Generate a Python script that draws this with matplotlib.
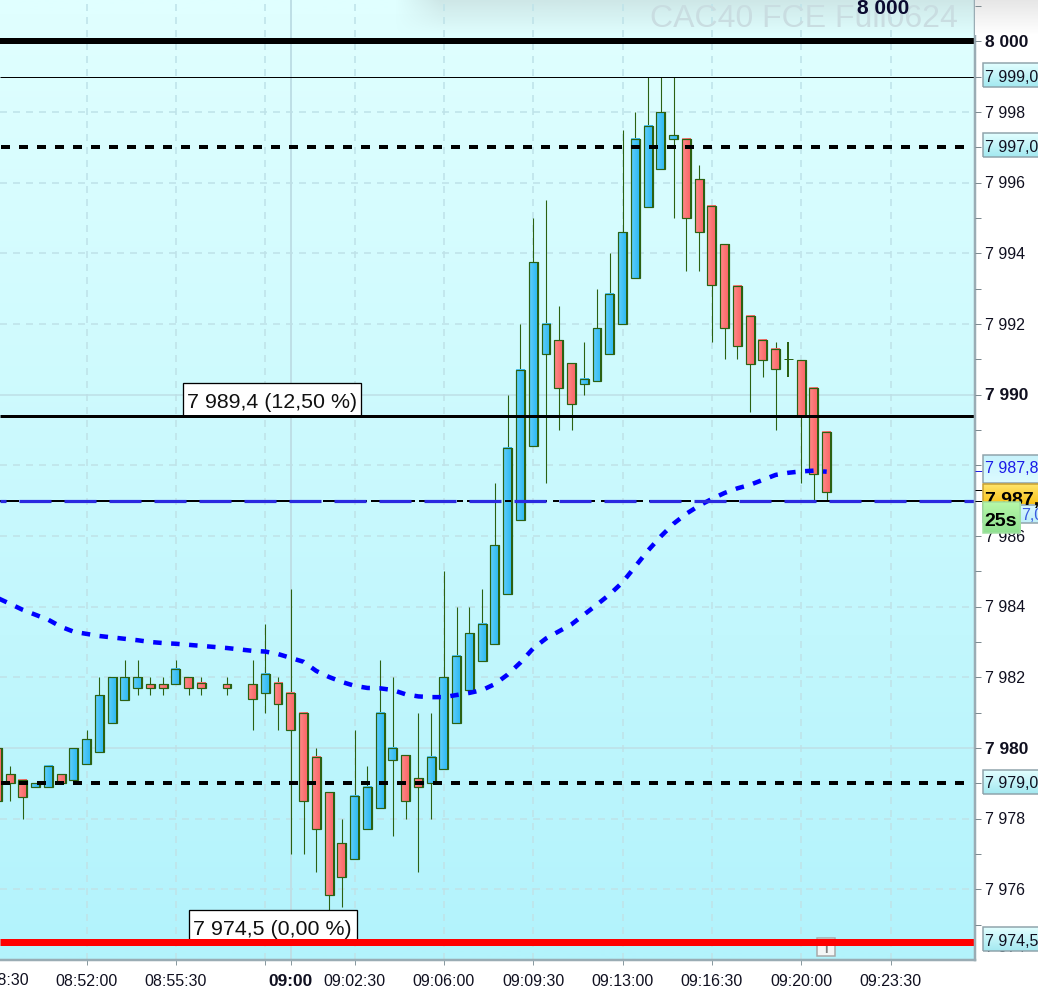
#!/usr/bin/env python3
# -*- coding: utf-8 -*-
"""
CAC40 30s candles with levels, moving average and price labels
"""

import matplotlib as mpl
mpl.use('Agg')
import matplotlib.pyplot as plt
from matplotlib.patches import Rectangle
import numpy as np

mpl.rcParams['font.family'] = ['Liberation Sans', 'DejaVu Sans']
mpl.rcParams['lines.scale_dashes'] = False

# ======= ====================================================================
#  DATA
# ======= ====================================================================

nan = float('nan')

opens = [7980, 7979.25, 7979.1, 7978.9, 7978.9, 7979.25, 7979.1, 7979.55, 7979.9, 7980.7,
         7981.35, 7981.7, 7981.8, 7981.8, 7981.8, 7982, 7981.85, nan, 7981.8, nan,
         7981.8, 7981.55, 7981.85, 7981.55, 7981, 7979.75, 7978.75, 7977.3, 7976.85, 7977.7,
         7978.3, 7979.65, 7979.8, 7979.15, 7979, 7979.4, 7980.7, 7981.65, 7982.45, 7982.95,
         7984.35, 7986.45, 7988.55, 7991.15, 7991.55, 7990.9, 7990.3, 7990.4, 7991.15, 7992,
         7993.3, 7995.3, 7996.4, 7997.25, 7997.25, 7996.1, 7995.35, 7994.27, 7993.08, 7992.23,
         7991.55, 7991.3, 7991, 7990.98, 7990.2, 7988.95]
closes = [7978.5, 7979, 7978.6, 7979, 7979.5, 7979, 7980, 7980.25, 7981.5, 7982,
          7982, 7982, 7981.7, 7981.7, 7982.25, 7981.7, 7981.7, nan, 7981.7, nan,
          7981.4, 7982.1, 7981.25, 7980.5, 7978.5, 7977.7, 7975.85, 7976.35, 7978.65, 7978.9,
          7981, 7980, 7978.5, 7978.9, 7979.75, 7982, 7982.6, 7983.25, 7983.5, 7985.75,
          7988.5, 7990.7, 7993.75, 7992, 7990.2, 7989.75, 7990.45, 7991.9, 7992.85, 7994.6,
          7997.25, 7997.6, 7998, 7997.35, 7995, 7994.6, 7993.1, 7991.9, 7991.37, 7990.87,
          7990.98, 7990.73, 7991, 7989.4, 7987.75, 7987.25]
highs = [7980, 7979.5, 7979.1, 7979, 7979.5, 7979.25, 7980, 7980.5, 7982, 7982,
         7982.5, 7982.5, 7982, 7982, 7982.5, 7982, 7982, nan, 7982, nan,
         7982.5, 7983.5, 7982, 7984.5, 7981, 7980, 7978.75, 7978, 7980.5, 7979.5,
         7982.5, 7982, 7979.8, 7981, 7981, 7985, 7984, 7984, 7984.5, 7987.5,
         7990, 7992, 7995, 7995.5, 7992.5, 7990.9, 7991.5, 7993, 7994, 7997.5,
         7998, 7999, 7999, 7999, 7997.25, 7996.5, 7995.35, 7994.27, 7993.08, 7992.23,
         7991.55, 7991.5, 7991.5, 7990.98, 7990.2, 7988.95]
lows = [7978.5, 7978.5, 7978, 7978.9, 7978.9, 7979, 7979.1, 7979.55, 7979.9, 7980.7,
        7981.35, 7981.5, 7981.5, 7981.5, 7981.8, 7981.5, 7981.5, nan, 7981.5, nan,
        7980.5, 7981, 7980.5, 7977, 7977, 7976.5, 7975.4, 7975.5, 7976.85, 7977.7,
        7978.3, 7977.5, 7978, 7976.5, 7978, 7979.4, 7980.7, 7981.65, 7982.45, 7982.95,
        7984.35, 7986.45, 7988.55, 7987.5, 7989, 7989, 7990, 7990.4, 7991.15, 7992,
        7993.3, 7995.3, 7996.4, 7995, 7993.5, 7993.5, 7991.5, 7991, 7991, 7989.5,
        7990.5, 7989, 7990.5, 7987.5, 7987, 7987]
moving_avg = [7984.25, 7984.08, 7983.91, 7983.77, 7983.63, 7983.43, 7983.29, 7983.23, 7983.17, 7983.13,
              7983.09, 7983.05, 7983.0, 7982.97, 7982.95, 7982.92, 7982.89, 7982.86, 7982.83, 7982.79,
              7982.75, 7982.73, 7982.66, 7982.55, 7982.44, 7982.18, 7982.01, 7981.87, 7981.76, 7981.7,
              7981.69, 7981.64, 7981.52, 7981.46, 7981.44, 7981.44, 7981.5, 7981.56, 7981.64, 7981.81,
              7982.08, 7982.42, 7982.82, 7983.1, 7983.3, 7983.5, 7983.78, 7984.06, 7984.35, 7984.69,
              7985.14, 7985.59, 7985.99, 7986.35, 7986.63, 7986.86, 7987.05, 7987.22, 7987.35, 7987.45,
              7987.59, 7987.73, 7987.79, 7987.83, 7987.85, 7987.82]

time_ticks = [7, 14, 21, 23, 28, 35, 42, 49, 56, 63, 70]
time_labels = ['08:52:00', '08:55:30', '', '09:00', '09:02:30', '09:06:00',
               '09:09:30', '09:13:00', '09:16:30', '09:20:00', '09:23:30']
first_time_label = '08:48:30'

price_ticks = [7976, 7978, 7980, 7982, 7984, 7986, 7990, 7992, 7994, 7996, 7998, 8000]
price_labels = ['7 976', '7 978', '7 980', '7 982', '7 984', '7 986',
                '7 990', '7 992', '7 994', '7 996', '7 998', '8 000']
bold_prices = [7980, 7990, 8000]
grid_prices = [7974, 7976, 7978, 7982, 7984, 7986, 7988, 7992, 7994, 7996, 7998]

# ======== ===================================================================
#  STYLE
# ======== ===================================================================

W, H = 1038, 987
PLOT_W, PLOT_B = 975, 961
X0, DX = -2.7, 12.76        # pixel of candle 0, pixels per candle
Y8000, DY = 42.4, 35.33     # pixel of 8000, pixels per point


def pt(px):
    return px * 0.72


def xi(px):
    return (px - X0) / DX


def yp(px):
    return 8000 - (px - Y8000) / DY


edge = '#2b6112'
reds = ['#ff8a8a', '#f96464']
blues = ['#5fd0fb', '#2cb6f0']
grid_col = '#bfe3e9'


def grad(c0, c1, n=32):
    a, b = np.array(mpl.colors.to_rgb(c0)), np.array(mpl.colors.to_rgb(c1))
    t = np.linspace(0, 1, n)[:, None]
    return a * (1 - t) + b * t


# ====== =====================================================================
#  PLOT
# ====== =====================================================================

fig = plt.figure(figsize=(W / 100, H / 100), dpi=100, facecolor='white')
ax = fig.add_axes([0, (H - PLOT_B) / H, PLOT_W / W, PLOT_B / H])
side = fig.add_axes([PLOT_W / W, (H - PLOT_B) / H, (W - PLOT_W) / W, PLOT_B / H])

# background
bg = grad('#e0ffff', '#b3f3fc')[:, None, :]
ax.imshow(bg, extent=[0, 1, 0, 1], transform=ax.transAxes, aspect='auto',
          interpolation='bilinear', zorder=0)

fade_y = np.linspace(0.6, 0, 36)[:, None]
fade_x = np.clip((np.arange(PLOT_W) - 395) / 45, 0, 1)[None, :]
band = np.zeros((36, PLOT_W, 4))
band[..., :3] = mpl.colors.to_rgb('#c2d6d6')
band[..., 3] = fade_y * fade_x
ax.imshow(band, extent=[0, 1, 1 - 36 / PLOT_B, 1], transform=ax.transAxes, aspect='auto',
          interpolation='bilinear', zorder=0.5)

# grid
ax.set_xticks(time_ticks)
ax.set_xticklabels(time_labels)
ax.set_yticks(grid_prices)
ax.grid(True, color=grid_col, linewidth=pt(1.6), linestyle=(0, (pt(7), pt(6))), zorder=1)
ax.set_axisbelow(True)
ax.hlines([7980, 7990], xi(0), xi(PLOT_W), color='#bedfe6', linewidth=pt(1.5), zorder=1.2)
ax.axvline(23, color='#bedfe6', linewidth=pt(2), zorder=1.2)

ax.text(958 / PLOT_W, yp(19), 'CAC40 FCE Full0624', transform=ax.get_yaxis_transform(),
        ha='right', va='center', fontsize=23, color='#c9dde1', zorder=1.5)
ax.text(xi(883), yp(8.5), '8 000', ha='center', va='center', fontsize=15, fontweight='bold',
        color='#0a0a30', zorder=6)

# candles
body_w = 0.7
for i in range(len(opens)):
    o, c, h, l = opens[i], closes[i], highs[i], lows[i]
    if np.isnan(o):
        continue
    if h > l:
        ax.vlines(i, l, h, color=edge, linewidth=pt(1.1) if o != c else pt(2), zorder=2)
    if o == c:
        ax.hlines(o, i - 0.38, i + 0.38, color=edge, linewidth=pt(1), zorder=3)
        continue
    cols = blues if c > o else reds
    ax.imshow(grad(cols[0], cols[1])[None, :, :],
              extent=[i - body_w / 2, i + body_w / 2, min(o, c), max(o, c)],
              aspect='auto', interpolation='bilinear', zorder=3)
    ax.add_patch(Rectangle((i - body_w / 2, min(o, c)), body_w, abs(c - o), fill=False,
                           edgecolor=edge, linewidth=pt(1.2), zorder=3.1))
    ax.vlines(i + body_w / 2, min(o, c), max(o, c), color=edge, linewidth=pt(2), zorder=3.1)

# moving average
ax.plot(range(len(moving_avg)), moving_avg, color='#0000ff', linewidth=pt(4.5),
        linestyle=(0, (pt(8.5), pt(9.5))), zorder=4)

# levels, x as axes fraction
yt = ax.get_yaxis_transform()
ax.plot([0, 1], [8000, 8000], transform=yt, color='black', linewidth=pt(6), zorder=5,
        solid_capstyle='butt')
ax.plot([0, 1], [7999, 7999], transform=yt, color='black', linewidth=pt(1), zorder=5,
        solid_capstyle='butt')
ax.plot([0, 1], [7989.4, 7989.4], transform=yt, color='black', linewidth=pt(3), zorder=5,
        solid_capstyle='butt')
for lev in [7997, 7979]:
    ax.plot([1 / PLOT_W, 964 / PLOT_W], [lev, lev], transform=yt, color='black',
            linewidth=pt(4), linestyle=(0, (pt(9), pt(9))), zorder=5)
ax.plot([0, 1], [7987, 7987], transform=yt, color='black', linewidth=pt(2),
        linestyle=(pt(13), (pt(32), pt(6), pt(6), pt(4))), zorder=5)
ax.plot([0, 1], [7987, 7987], transform=yt, color='#2a2ae0', linewidth=pt(3.2),
        linestyle=(pt(26), (pt(32), pt(13))), zorder=5.1)

# flag under the red line
ax.add_patch(Rectangle((xi(817), yp(957)), 18 / DX, 18 / DY, facecolor='#f4f6f6',
                       edgecolor='#a8a8a8', linewidth=pt(1.5), zorder=4.5))
ax.text(xi(826), yp(950), 'I', ha='center', va='center', fontsize=9, fontweight='bold',
        color='#808080', zorder=4.6)
ax.plot([0, 1], [7974.5, 7974.5], transform=yt, color='#ff0000', linewidth=pt(7), zorder=5,
        solid_capstyle='butt')


# callouts
def callout(x0, x1, y0, y1, txt):
    ax.add_patch(Rectangle((xi(x0), yp(y1)), (x1 - x0) / DX, (y1 - y0) / DY, facecolor='white',
                           edgecolor='black', linewidth=pt(1.3), zorder=4.8))
    ax.text(xi((x0 + x1) / 2), yp((y0 + y1) / 2 + 2), txt, ha='center', va='center',
            fontsize=15.4, color='#101010', zorder=4.9)


callout(182.5, 361, 384, 417, '7 989,4 (12,50 %)')
callout(188.5, 357, 911, 944, '7 974,5 (0,00 %)')

# axes cosmetics
for s in ['top', 'left']:
    ax.spines[s].set_visible(False)
for s in ['right', 'bottom']:
    ax.spines[s].set_color('#9aacb4')
    ax.spines[s].set_linewidth(pt(2.5))
    ax.spines[s].set_zorder(7)
ax.tick_params(axis='y', left=False, labelleft=False)
ax.tick_params(axis='x', length=pt(5), width=pt(1), color='#8a9aa0', pad=pt(8),
               labelsize=11.5, labelcolor='#101020')
for lab, txt in zip(ax.get_xticklabels(), time_labels):
    if txt == '09:00':
        lab.set_fontweight('bold')
        lab.set_fontsize(12.5)
ax.text(xi(-2), -20 / PLOT_B, first_time_label, transform=ax.get_xaxis_transform(), ha='center',
        va='center', fontsize=11.5, color='#101020', clip_on=False)

ax.set_xlim(xi(0), xi(PLOT_W))
ax.set_ylim(yp(PLOT_B), yp(0))

# ======= ====================================================================
#  PRICE PANEL
# ======= ====================================================================

side.axis('off')
side.imshow(grad('#e6e6e6', '#ffffff')[:, None, :],
            extent=[PLOT_W, W, yp(36), yp(0)], aspect='auto', interpolation='bilinear', zorder=0)

side.hlines(np.arange(7974, 8002), PLOT_W, PLOT_W + 6, color='#7d8a90', linewidth=pt(1), zorder=1)
side.hlines([7987.3, 7987], PLOT_W, PLOT_W + 7, color='black', linewidth=pt(1), zorder=1)
side.hlines(7987.85, PLOT_W, PLOT_W + 7, color='#2020e0', linewidth=pt(1), zorder=1)

for p, txt in zip(price_ticks, price_labels):
    bold = p in bold_prices
    side.text(985, p, txt, ha='left', va='center', color='#101020',
              fontsize=12.5 if bold else 11.5, fontweight='bold' if bold else 'normal', zorder=2)
side.text(985, yp(948), '7 974', ha='left', va='center', color='#101020', fontsize=11.5, zorder=2)


def price_box(y0, y1, c0, c1, zorder=3, x0=982.5, x1=1040, border='#8ea3ab'):
    side.imshow(grad(c0, c1)[:, None, :], extent=[x0, x1, yp(y1), yp(y0)], aspect='auto',
                interpolation='bilinear', zorder=zorder)
    side.add_patch(Rectangle((x0, yp(y1)), x1 - x0, (y1 - y0) / DY, fill=False,
                             edgecolor=border, linewidth=pt(1.5), zorder=zorder + 0.1))


price_box(64, 88, '#e2ffff', '#a4e8f0')
side.text(985, yp(77), '7 999,0', ha='left', va='center', fontsize=11.5, color='#101020', zorder=4)
price_box(134, 158, '#e2ffff', '#a4e8f0')
side.text(985, yp(147.5), '7 997,0', ha='left', va='center', fontsize=11.5, color='#101020', zorder=4)
price_box(771, 795, '#e2ffff', '#a4e8f0')
side.text(985, yp(783), '7 979,0', ha='left', va='center', fontsize=11.5, color='#101020', zorder=4)
price_box(928, 952, '#e2ffff', '#a4e8f0')
side.text(985, yp(942), '7 974,5', ha='left', va='center', fontsize=11.5, color='#101020', zorder=4)

price_box(456, 484, '#c8f2fb', '#dcfbff')
side.text(985, yp(468), '7 987,8', ha='left', va='center', fontsize=11.5, color='#1a1ae8', zorder=4)

price_box(506, 524, '#d8f8ff', '#c0eef8', zorder=4.2)
side.text(1021, yp(515), '7,0', ha='left', va='center', fontsize=11.5, color='#3a5ae0', zorder=4.5)

price_box(485, 511, '#ffe46a', '#f6b800', zorder=4.0, border='#c8a030')
side.text(985, yp(501), '7 987,0', ha='left', va='center', fontsize=14, fontweight='bold',
          color='black', zorder=4.6)

price_box(503, 534, '#b6f8a8', '#8fe090', zorder=5, x1=1020, border='#a0e0a0')
side.text(1001, yp(521), '25s', ha='center', va='center', fontsize=14, fontweight='bold',
          color='black', zorder=6)

side.set_xlim(PLOT_W, W)
side.set_ylim(yp(PLOT_B), yp(0))

fig.savefig('out.png', dpi=100)
